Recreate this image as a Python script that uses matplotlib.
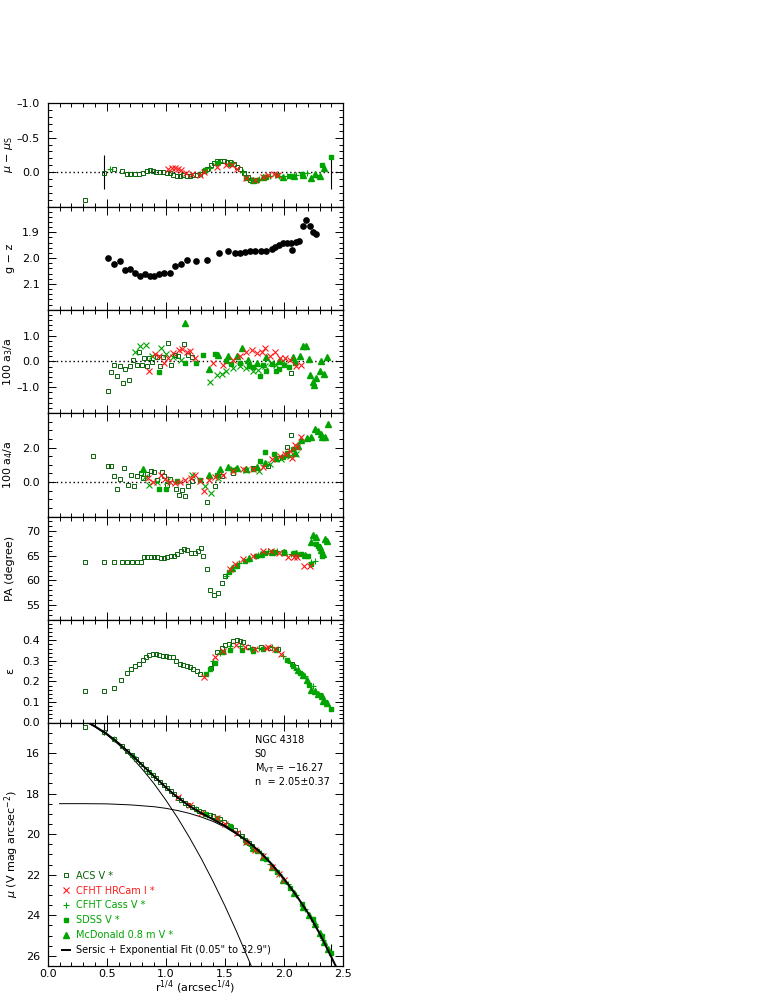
import matplotlib
matplotlib.use("Agg")
import matplotlib.pyplot as plt
from matplotlib.ticker import MultipleLocator, FixedLocator, FuncFormatter

# ---------------- data (x = r^(1/4), arcsec^(1/4)) ----------------

# panel 1: residuals mu - mu_S
res_acs_x = [0.315, 0.476, 0.563, 0.625, 0.668, 0.70, 0.74, 0.775, 0.81, 0.837, 0.865, 0.893, 0.92, 0.95,
             0.977, 1.006, 1.034, 1.062, 1.09, 1.118, 1.146, 1.175, 1.2, 1.23, 1.26, 1.29, 1.32, 1.35, 1.38,
             1.405, 1.43, 1.46, 1.49, 1.52, 1.545, 1.575, 1.6, 1.63, 1.66, 1.69, 1.715, 1.745]
res_acs = [0.41, 0.015, -0.04, -0.01, 0.025, 0.03, 0.025, 0.025, 0.01, -0.015, -0.025, -0.015, 0.0, 0.0,
           0.005, 0.01, 0.015, 0.035, 0.05, 0.05, 0.04, 0.055, 0.055, 0.035, 0.035, 0.025, -0.015, -0.05, -0.1,
           -0.13, -0.155, -0.16, -0.16, -0.15, -0.14, -0.12, -0.08, -0.045, 0.015, 0.07, 0.11, 0.13]
res_red_x = [1.02, 1.05, 1.076, 1.10, 1.13, 1.17, 1.22, 1.29, 1.32, 1.43, 1.51, 1.555, 1.6, 1.68, 1.75, 1.82,
             1.865, 1.91, 1.95]
res_red = [-0.05, -0.06, -0.06, -0.04, -0.025, 0.01, 0.025, 0.035, 0.005, -0.08, -0.11, -0.1, -0.05, 0.085,
           0.12, 0.065, 0.035, 0.025, 0.035]
res_cass_x = [0.53, 1.29, 1.37, 1.46, 1.57, 1.65, 1.72, 1.79, 1.88, 1.96, 2.02, 2.1, 2.19, 2.27]
res_cass = [-0.04, 0.025, -0.065, -0.15, -0.13, 0.0, 0.11, 0.1, 0.05, 0.05, 0.05, 0.035, 0.015, 0.035]
res_sdss_x = [1.33, 1.43, 1.54, 1.68, 1.77, 1.85, 1.94, 2.05, 2.15, 2.32, 2.397]
res_sdss = [-0.025, -0.13, -0.12, 0.085, 0.12, 0.065, 0.035, 0.05, 0.025, -0.1, -0.22]
res_mcd_x = [1.74, 1.82, 1.99, 2.08, 2.16, 2.23, 2.26, 2.30, 2.34]
res_mcd = [0.11, 0.075, 0.065, 0.055, 0.035, 0.09, 0.025, 0.05, -0.065]

# fit range limits (0.05" and 32.9")
fit_lo = 0.473
fit_hi = 2.395

# panel 2: g - z colour
gz_x = [0.513, 0.563, 0.611, 0.654, 0.696, 0.738, 0.78, 0.823, 0.865, 0.901, 0.944, 0.986, 1.034, 1.076,
        1.124, 1.18, 1.25, 1.349, 1.45, 1.527, 1.583, 1.625, 1.668, 1.71, 1.752, 1.80, 1.85, 1.893, 1.924,
        1.955, 1.99, 2.025, 2.054, 2.07, 2.10, 2.127, 2.155, 2.183, 2.217, 2.245, 2.268]
gz = [2.0, 2.021, 2.011, 2.047, 2.042, 2.057, 2.068, 2.06, 2.068, 2.07, 2.06, 2.057, 2.057, 2.029,
      2.023, 2.006, 2.01, 2.007, 1.98, 1.971, 1.98, 1.98, 1.975, 1.971, 1.974, 1.974, 1.974, 1.963, 1.955,
      1.949, 1.943, 1.941, 1.941, 1.97, 1.939, 1.935, 1.874, 1.851, 1.877, 1.899, 1.908]

# panel 3: 100 a3/a
a3_acs_x = [0.513, 0.535, 0.563, 0.589, 0.611, 0.634, 0.654, 0.685, 0.696, 0.724, 0.752, 0.772, 0.794, 0.814,
            0.837, 0.859, 0.879, 0.921, 0.949, 0.977, 1.02, 1.04, 1.076, 1.104, 1.155, 1.189, 1.217, 2.06]
a3_acs = [-1.13, -0.42, -0.13, -0.55, -0.19, -0.83, -0.29, -0.74, -0.17, 0.04, -0.13, 0.35, -0.13, 0.13,
          -0.19, 0.13, -0.04, 0.17, -0.17, 0.17, 0.7, -0.15, 0.26, 0.19, 0.68, 0.26, 0.17, -0.45]
a3_red_x = [0.856, 0.907, 0.944, 0.983, 1.02, 1.056, 1.11, 1.14, 1.175, 1.2, 1.245, 1.4, 1.485, 1.57, 1.625,
            1.68, 1.724, 1.766, 1.81, 1.842, 1.88, 1.92, 1.963, 2.006, 2.048, 2.104, 2.146]
a3_red = [-0.38, 0.29, 0.22, -0.06, 0.13, 0.32, 0.45, 0.47, 0.35, 0.42, 0.13, -0.06, -0.13, 0.06, 0.22,
          0.35, 0.45, 0.32, 0.35, 0.51, 0.19, 0.38, 0.13, 0.13, 0.06, -0.17, -0.13]
a3_cass_x = [0.738, 0.78, 0.83, 0.88, 0.955, 0.997, 1.06, 1.13, 1.372, 1.43, 1.47, 1.51, 1.57, 1.625, 1.68,
             1.74, 1.78, 1.837, 1.89, 1.935, 1.99]
a3_cass = [0.35, 0.58, 0.64, 0.19, 0.51, 0.29, 0.17, 0.04, -0.81, -0.51, -0.47, -0.38, -0.26, -0.17, -0.26,
           -0.38, -0.32, -0.19, -0.06, -0.13, 0.0]
a3_sdss_x = [0.944, 1.16, 1.25, 1.315, 1.414, 1.51, 1.55, 1.625, 1.7, 1.74, 1.795, 1.82, 1.85, 1.9, 1.935,
             1.955, 2.0, 2.04, 2.09]
a3_sdss = [-0.42, -0.06, -0.08, 0.26, 0.29, 0.0, -0.12, -0.06, -0.18, -0.22, -0.58, -0.15, -0.38, -0.1,
           -0.38, -0.29, -0.15, -0.22, -0.06]
a3_mcd_x = [1.16, 1.36, 1.44, 1.527, 1.6, 1.64, 1.696, 1.766, 1.85, 1.96, 2.076, 2.13, 2.16, 2.183, 2.21,
            2.22, 2.245, 2.25, 2.268, 2.3, 2.315, 2.335, 2.36]
a3_mcd = [1.47, -0.29, 0.26, 0.19, 0.22, 0.51, 0.06, -0.06, 0.17, 0.0, 0.17, 0.19, 0.6, 0.58, 0.09,
          -0.51, -0.81, -0.9, -0.64, -0.38, 0.0, -0.49, 0.17]

# panel 4: 100 a4/a
a4_acs_x = [0.386, 0.513, 0.535, 0.563, 0.589, 0.611, 0.645, 0.682, 0.704, 0.73, 0.752, 0.786, 0.808, 0.837,
            0.87, 0.9, 0.921, 0.963, 0.983, 1.006, 1.034, 1.082, 1.11, 1.132, 1.16, 1.19, 1.222, 1.344,
            1.414, 1.47, 1.57, 1.74, 1.865, 1.95, 2.025, 2.056]
a4_acs = [1.51, 0.92, 0.9, 0.33, -0.41, 0.2, 0.82, -0.16, 0.43, -0.25, 0.33, 0.53, 0.24, 0.47,
          0.63, 0.59, 0.14, 0.59, 0.33, -0.16, 0.2, -0.41, -0.78, -0.45, -0.84, -0.25, 0.04, -1.18,
          -0.25, 0.33, 0.53, 0.82, 0.92, 1.37, 2.04, 2.75]
a4_red_x = [0.85, 0.893, 0.955, 0.99, 1.034, 1.076, 1.12, 1.16, 1.21, 1.245, 1.29, 1.32, 1.36, 1.414, 1.485,
            1.57, 1.65, 1.74, 1.82, 1.9, 1.963, 2.006, 2.048, 2.062, 2.09, 2.11, 2.146]
a4_red = [0.24, 0.0, 0.43, 0.2, 0.0, -0.06, 0.0, 0.14, 0.24, 0.43, 0.04, -0.55, 0.14, 0.27, 0.43,
          0.63, 0.73, 0.76, 0.86, 1.31, 1.51, 1.61, 1.8, 1.41, 2.16, 2.04, 2.63]
a4_cass_x = [0.823, 0.859, 0.921, 1.006, 1.217, 1.33, 1.377, 1.44, 1.57, 1.68, 1.79, 1.88, 1.97, 2.05, 2.1]
a4_cass = [0.27, -0.2, 0.0, 0.04, 0.43, -0.25, -0.61, 0.24, 0.73, 0.67, 0.63, 1.06, 1.31, 1.51, 1.61]
a4_sdss_x = [0.944, 0.997, 1.09, 1.29, 1.43, 1.57, 1.74, 1.795, 1.837, 1.91, 1.99, 2.025, 2.076]
a4_sdss = [-0.39, -0.39, 0.08, 0.14, 0.43, 0.67, 0.73, 1.22, 1.76, 1.61, 1.45, 1.71, 1.9]
a4_mcd_x = [0.808, 1.36, 1.456, 1.527, 1.6, 1.68, 1.766, 1.837, 1.935, 2.02, 2.09, 2.12, 2.146, 2.19, 2.23,
            2.26, 2.29, 2.315, 2.32, 2.345, 2.37]
a4_mcd = [0.73, 0.43, 0.78, 0.86, 0.82, 0.73, 0.86, 1.12, 1.41, 1.61, 1.71, 2.1, 2.43, 2.55, 2.63,
          3.08, 2.98, 2.78, 2.63, 2.59, 3.37]

# panel 5: position angle
pa_acs_x = [0.315, 0.476, 0.56, 0.625, 0.673, 0.715, 0.752, 0.786, 0.814, 0.842, 0.87, 0.9, 0.927, 0.955,
            0.983, 1.011, 1.04, 1.068, 1.096, 1.124, 1.152, 1.18, 1.21, 1.242, 1.27, 1.293, 1.315, 1.344,
            1.372, 1.405, 1.442, 1.47, 1.5]
pa_acs = [63.67, 63.67, 63.67, 63.67, 63.67, 63.67, 63.67, 63.8, 64.7, 64.8, 64.8, 64.7, 64.7, 64.5,
          64.6, 64.8, 64.9, 65.0, 65.4, 65.9, 66.4, 66.2, 65.6, 65.6, 65.9, 66.5, 65.0, 62.4,
          58.0, 57.1, 57.4, 59.4, 61.0]
pa_red_x = [1.54, 1.58, 1.65, 1.74, 1.82, 1.89, 1.96, 2.03, 2.08, 2.11, 2.165, 2.215]
pa_red = [62.3, 63.3, 64.4, 65.0, 65.9, 65.9, 65.5, 64.8, 64.7, 64.7, 62.9, 63.0]
pa_cass_x = [1.51, 1.57, 1.62, 1.7, 1.78, 1.86, 1.94, 2.0, 2.06, 2.12, 2.23, 2.26]
pa_cass = [61.0, 62.8, 63.6, 64.4, 65.2, 66.0, 65.9, 65.7, 65.4, 65.2, 63.7, 64.0]
pa_sdss_x = [1.53, 1.6, 1.67, 1.76, 1.84, 1.92, 2.0, 2.08, 2.14, 2.2, 2.23, 2.27, 2.29, 2.316]
pa_sdss = [61.8, 63.0, 63.9, 64.9, 65.6, 65.8, 65.7, 65.5, 65.4, 65.0, 63.3, 67.4, 67.1, 65.0]
pa_mcd_x = [1.56, 1.7, 1.8, 1.9, 2.0, 2.1, 2.18, 2.23, 2.245, 2.27, 2.3, 2.31, 2.33, 2.345, 2.36]
pa_mcd = [62.6, 64.6, 65.3, 65.8, 65.8, 65.5, 65.2, 67.8, 69.3, 68.8, 66.7, 66.1, 65.4, 68.4, 68.1]

# panel 6: ellipticity
eps_acs_x = [0.315, 0.476, 0.56, 0.62, 0.668, 0.704, 0.738, 0.775, 0.803, 0.831, 0.859, 0.887, 0.915, 0.944,
             0.972, 1.0, 1.028, 1.056, 1.085, 1.118, 1.146, 1.175, 1.203, 1.231, 1.259, 1.287, 1.38, 1.408,
             1.434, 1.47, 1.5, 1.535, 1.57, 1.597, 1.625, 1.654, 1.696, 1.738, 1.808, 1.878, 1.949, 2.07, 2.1]
eps_acs = [0.155, 0.155, 0.168, 0.209, 0.241, 0.262, 0.274, 0.287, 0.303, 0.317, 0.327, 0.334, 0.334, 0.327,
           0.325, 0.322, 0.319, 0.317, 0.298, 0.285, 0.278, 0.274, 0.27, 0.262, 0.253, 0.236, 0.265, 0.29,
           0.343, 0.363, 0.379, 0.382, 0.398, 0.402, 0.395, 0.392, 0.366, 0.36, 0.366, 0.363, 0.36, 0.285, 0.269]
eps_red_x = [1.32, 1.414, 1.48, 1.59, 1.67, 1.75, 1.85, 1.865, 1.92, 1.977]
eps_red = [0.222, 0.317, 0.347, 0.376, 0.37, 0.36, 0.363, 0.366, 0.36, 0.334]
eps_cass_x = [1.4, 1.456, 1.54, 1.625, 1.71, 1.79, 1.9, 1.99, 2.05, 2.1, 2.175, 2.245]
eps_cass = [0.298, 0.339, 0.371, 0.371, 0.363, 0.363, 0.366, 0.322, 0.29, 0.257, 0.225, 0.176]
eps_sdss_x = [1.338, 1.372, 1.414, 1.485, 1.54, 1.64, 1.74, 1.82, 1.935, 2.02, 2.076, 2.13, 2.21, 2.3,
              2.345, 2.4]
eps_sdss = [0.236, 0.262, 0.29, 0.343, 0.355, 0.355, 0.35, 0.36, 0.355, 0.306, 0.274, 0.241, 0.184, 0.136,
            0.1, 0.066]
eps_mcd_x = [2.12, 2.16, 2.19, 2.23, 2.26, 2.29, 2.316, 2.33, 2.36]
eps_mcd = [0.257, 0.233, 0.209, 0.16, 0.152, 0.139, 0.128, 0.107, 0.095]

# panel 7: surface brightness profile
mu_acs_x = [0.315, 0.476, 0.56, 0.625, 0.67, 0.71, 0.75, 0.79, 0.83, 0.86, 0.89, 0.92, 0.95, 0.98, 1.01,
            1.04, 1.07, 1.10, 1.13, 1.16, 1.19, 1.22, 1.25, 1.28, 1.31, 1.34, 1.37, 1.40, 1.43, 1.46, 1.49,
            1.52, 1.55, 1.58, 1.61, 1.64, 1.67, 1.70, 1.73]
mu_acs = [14.7, 14.98, 15.3, 15.65, 15.88, 16.09, 16.31, 16.55, 16.78, 16.93, 17.1, 17.25, 17.41, 17.58,
          17.74, 17.88, 18.04, 18.2, 18.33, 18.45, 18.57, 18.67, 18.75, 18.84, 18.93, 19.0, 19.05, 19.12,
          19.2, 19.28, 19.4, 19.55, 19.67, 19.8, 19.95, 20.1, 20.3, 20.45, 20.6]
mu_red_x = [1.1, 1.2, 1.3, 1.43, 1.5, 1.6, 1.68, 1.75, 1.82, 1.9, 1.96, 2.0]
mu_red = [18.15, 18.58, 18.95, 19.2, 19.5, 19.93, 20.4, 20.78, 21.1, 21.6, 21.95, 22.25]
mu_cass_x = [0.56, 0.72, 0.87, 1.25, 1.35, 1.45, 1.55, 1.65, 1.72, 1.8, 1.88, 1.96, 2.03, 2.1, 2.18, 2.26, 2.33]
mu_cass = [15.3, 16.15, 16.98, 18.75, 19.05, 19.3, 19.7, 20.2, 20.6, 20.95, 21.45, 21.95, 22.45, 23.0, 23.7,
           24.45, 25.2]
mu_sdss_x = [1.33, 1.43, 1.54, 1.68, 1.77, 1.85, 1.94, 2.05, 2.15, 2.24, 2.32, 2.397]
mu_sdss = [19.0, 19.22, 19.62, 20.4, 20.85, 21.25, 21.85, 22.65, 23.45, 24.2, 25.0, 25.85]
mu_mcd_x = [1.74, 1.82, 1.9, 1.99, 2.08, 2.16, 2.21, 2.26, 2.3, 2.34, 2.37]
mu_mcd = [20.7, 21.15, 21.6, 22.25, 22.9, 23.6, 24.0, 24.45, 24.85, 25.3, 25.65]

# fitted components
sersic_x = [0.33, 0.4, 0.5, 0.6, 0.7, 0.8, 0.9, 1.0, 1.1, 1.2, 1.3, 1.4, 1.5, 1.6, 1.7, 1.73]
sersic_mu = [14.49, 14.72, 15.11, 15.59, 16.15, 16.80, 17.52, 18.33, 19.21, 20.18, 21.22, 22.35, 23.55, 24.84,
             26.20, 26.62]
expo_x = [0.1, 0.3, 0.5, 0.7, 0.9, 1.0, 1.1, 1.2, 1.3, 1.4, 1.5, 1.6, 1.7, 1.8, 1.9, 2.0, 2.1, 2.2, 2.3, 2.4, 2.44]
expo_mu = [18.50, 18.50, 18.51, 18.56, 18.65, 18.73, 18.84, 18.98, 19.16, 19.38, 19.66, 20.01, 20.42, 20.91,
           21.5, 22.18, 22.97, 23.87, 24.9, 26.07, 26.55]
total_x = [0.35, 0.4, 0.5, 0.6, 0.7, 0.8, 0.9, 1.0, 1.1, 1.2, 1.3, 1.4, 1.5, 1.6, 1.7, 1.8, 1.9, 2.0, 2.1, 2.2,
           2.3, 2.4, 2.44]
total_mu = [14.52, 14.69, 15.06, 15.52, 16.04, 16.6, 17.15, 17.7, 18.2, 18.62, 18.97, 19.28, 19.6, 19.98, 20.4,
            20.9, 21.52, 22.22, 23.0, 23.87, 24.9, 26.07, 26.55]

legend_labels = ['ACS V *', 'CFHT HRCam I *', 'CFHT Cass V *', 'SDSS V *', 'McDonald 0.8 m V *',
                 'Sersic + Exponential Fit (0.05" to 32.9")']
info_lines = ['NGC 4318', 'S0', 'M$_{\\rm VT}$ = \u221216.27', 'n  = 2.05\u00b10.37']

# ---------------- styling ----------------
plt.rcParams['font.family'] = ['DejaVu Sans']
plt.rcParams['mathtext.fontset'] = 'dejavusans'

acs_col = '#0b640b'
red_col = '#ff1a1a'
grn_col = '#00a400'

sty = {
    'acs': dict(marker='s', ms=3.2, mfc='none', mec=acs_col, mew=0.7, ls='none'),
    'red': dict(marker='x', ms=3.8, color=red_col, mew=0.8, ls='none'),
    'cass': dict(marker='+', ms=4.5, color=grn_col, mew=0.8, ls='none'),
    'cassx': dict(marker='x', ms=3.8, color=grn_col, mew=0.8, ls='none'),
    'sdss': dict(marker='s', ms=3.0, color=grn_col, mec=grn_col, ls='none'),
    'mcd': dict(marker='^', ms=3.8, color=grn_col, mec=grn_col, ls='none'),
}


def dash_fmt(fmt):
    # IDL-style tick labels: an en dash for the minus sign
    return FuncFormatter(lambda v, p: (fmt % v).replace('-', '\u2013'))


def setup(ax, ylim, majors, minor, fmt, label, bottom=False, label_x=-0.11):
    ax.set_xlim(0, 2.5)
    ax.set_ylim(*ylim)
    ax.xaxis.set_major_locator(MultipleLocator(0.5))
    ax.xaxis.set_minor_locator(MultipleLocator(0.1))
    ax.xaxis.set_major_formatter(dash_fmt('%.1f'))
    ax.yaxis.set_major_locator(FixedLocator(majors))
    ax.yaxis.set_minor_locator(MultipleLocator(minor))
    ax.yaxis.set_major_formatter(dash_fmt(fmt))
    ax.tick_params(which='both', direction='in', top=True, right=True, labelsize=8, width=0.7)
    ax.tick_params(which='major', length=5.5, pad=5.5)
    ax.tick_params(which='minor', length=2.8)
    ax.tick_params(axis='x', which='major', pad=2)
    if not bottom:
        ax.tick_params(labelbottom=False)
    for s in ax.spines.values():
        s.set_linewidth(0.9)
    ax.set_ylabel(label, fontsize=8)
    ax.yaxis.set_label_coords(label_x, 0.5)


fig = plt.figure(figsize=(7.81, 9.98), dpi=100)
W, H = 781.0, 998.0
edges = [103.3, 206.5, 309.8, 413.0, 516.5, 619.8, 722.5, 966.0]
axes = []
for i in range(7):
    top, bot = edges[i], edges[i + 1]
    axes.append(fig.add_axes([47.7 / W, 1 - bot / H, 295.6 / W, (bot - top) / H]))
ax1, ax2, ax3, ax4, ax5, ax6, ax7 = axes

# panel 1
ax1.axhline(0, color='black', ls=(0, (1, 2)), lw=1.0)
ax1.vlines([fit_lo, fit_hi], -0.25, 0.25, color='black', lw=0.8)
ax1.plot(res_acs_x, res_acs, **sty['acs'])
ax1.plot(res_cass_x, res_cass, **sty['cass'])
ax1.plot(res_sdss_x, res_sdss, **sty['sdss'])
ax1.plot(res_mcd_x, res_mcd, **sty['mcd'])
ax1.plot(res_red_x, res_red, **sty['red'])
setup(ax1, (0.5, -1.0), [-1.0, -0.5, 0.0], 0.1, '%.1f', r'$\mu$ $-$ $\mu_{\rm S}$')

# panel 2
ax2.plot(gz_x, gz, 'o', color='black', ms=3.8)
setup(ax2, (2.2, 1.8), [1.9, 2.0, 2.1], 0.02, '%.1f', 'g \u2212 z')

# panel 3
ax3.axhline(0, color='black', ls=(0, (1, 2)), lw=1.0)
ax3.plot(a3_acs_x, a3_acs, **sty['acs'])
ax3.plot(a3_cass_x, a3_cass, **sty['cassx'])
ax3.plot(a3_sdss_x, a3_sdss, **sty['sdss'])
ax3.plot(a3_mcd_x, a3_mcd, **sty['mcd'])
ax3.plot(a3_red_x, a3_red, **sty['red'])
setup(ax3, (-2.0, 2.0), [-1.0, 0.0, 1.0], 0.2, '%.1f', '100 a$_3$/a')

# panel 4
ax4.axhline(0, color='black', ls=(0, (1, 2)), lw=1.0)
ax4.plot(a4_acs_x, a4_acs, **sty['acs'])
ax4.plot(a4_cass_x, a4_cass, **sty['cassx'])
ax4.plot(a4_sdss_x, a4_sdss, **sty['sdss'])
ax4.plot(a4_mcd_x, a4_mcd, **sty['mcd'])
ax4.plot(a4_red_x, a4_red, **sty['red'])
setup(ax4, (-2.0, 4.0), [0.0, 2.0], 0.5, '%.1f', '100 a$_4$/a')

# panel 5
ax5.plot(pa_acs_x, pa_acs, **sty['acs'])
ax5.plot(pa_cass_x, pa_cass, **sty['cass'])
ax5.plot(pa_sdss_x, pa_sdss, **sty['sdss'])
ax5.plot(pa_mcd_x, pa_mcd, **sty['mcd'])
ax5.plot(pa_red_x, pa_red, **sty['red'])
setup(ax5, (52, 73), [55, 60, 65, 70], 1, '%d', 'PA (degree)')

# panel 6
ax6.plot(eps_acs_x, eps_acs, **sty['acs'])
ax6.plot(eps_cass_x, eps_cass, **sty['cass'])
ax6.plot(eps_sdss_x, eps_sdss, **sty['sdss'])
ax6.plot(eps_mcd_x, eps_mcd, **sty['mcd'])
ax6.plot(eps_red_x, eps_red, **sty['red'])
setup(ax6, (0.0, 0.5), [0.0, 0.1, 0.2, 0.3, 0.4], 0.02, '%.1f', '\u03b5')

# panel 7
ax7.plot(sersic_x, sersic_mu, color='black', lw=0.7)
ax7.plot(expo_x, expo_mu, color='black', lw=0.7)
ax7.vlines([fit_lo], 14.5, 15.1, color='black', lw=0.8)
ax7.vlines([fit_hi], 25.4, 26.5, color='black', lw=0.8)
h_acs, = ax7.plot(mu_acs_x, mu_acs, **sty['acs'])
h_cass, = ax7.plot(mu_cass_x, mu_cass, **sty['cass'])
h_sdss, = ax7.plot(mu_sdss_x, mu_sdss, **sty['sdss'])
h_mcd, = ax7.plot(mu_mcd_x, mu_mcd, **sty['mcd'])
h_red, = ax7.plot(mu_red_x, mu_red, **sty['red'])
h_fit, = ax7.plot(total_x, total_mu, color='black', lw=1.4)
setup(ax7, (26.5, 14.5), [16, 18, 20, 22, 24, 26], 0.5, '%d', r'$\mu$ (V mag arcsec$^{-2}$)', bottom=True,
      label_x=-0.092)
ax7.set_xlabel(r'r$^{1/4}$ (arcsec$^{1/4}$)', fontsize=8, labelpad=0)

ax7.legend([h_acs, h_red, h_cass, h_sdss, h_mcd, h_fit], legend_labels,
           loc='lower left', bbox_to_anchor=(0.05, 0.045), frameon=False, fontsize=7,
           handlelength=0.8, handletextpad=0.55, labelspacing=0.5, borderpad=0, borderaxespad=0,
           labelcolor=[acs_col, red_col, grn_col, grn_col, grn_col, 'black'])

for k, line in enumerate(info_lines):
    ax7.text(0.70, 0.927 - k * 0.0565, line, transform=ax7.transAxes, fontsize=7, va='center', ha='left')

fig.savefig('out.png', dpi=100)
